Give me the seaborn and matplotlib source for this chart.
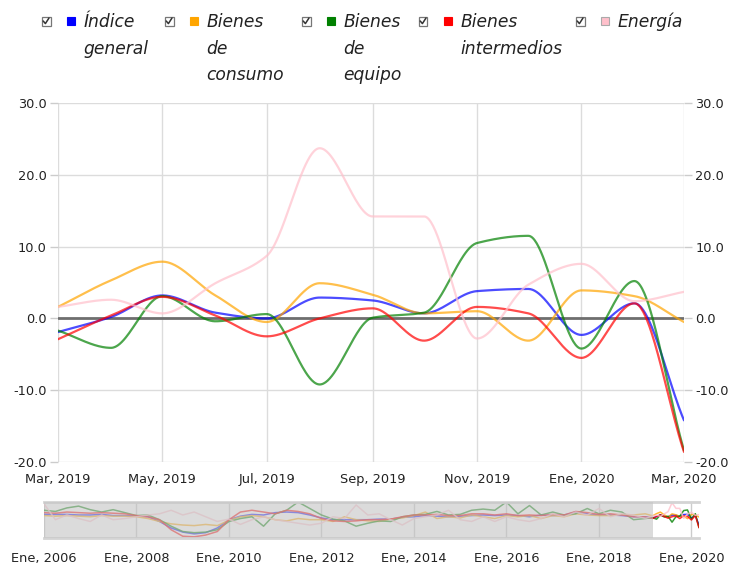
import numpy as np
import pandas as pd
import seaborn as sns
import matplotlib
matplotlib.use("Agg")
import matplotlib.pyplot as plt
import matplotlib.dates as mdates
from matplotlib.patches import Rectangle
from matplotlib.lines import Line2D

# series names / colours
SERIES = ["Índice general", "Bienes de consumo", "Bienes de equipo",
          "Bienes intermedios", "Energía"]
LEGEND_LABELS = [["Índice", "general"], ["Bienes", "de", "consumo"],
                 ["Bienes", "de", "equipo"], ["Bienes", "intermedios"], ["Energía"]]
COLORS = ["#0000ff", "#ffa500", "#008000", "#ff0000", "#ffc0cb"]

# main window: monthly, Mar 2019 - Mar 2020
meses = pd.date_range("2019-03-01", "2020-03-01", freq="MS")
general = [-1.9, 0.2, 3.2, 0.8, 0.0, 2.9, 2.5, 0.7, 3.8, 4.1, -2.3, 2.1, -14.2]
consumo = [1.6, 5.3, 7.9, 3.2, -0.5, 4.9, 3.3, 0.7, 1.0, -3.1, 3.9, 3.1, -0.5]
equipo = [-1.7, -4.1, 3.1, -0.4, 0.6, -9.2, 0.1, 0.8, 10.5, 11.5, -4.2, 5.2, -18.4]
intermedios = [-2.9, 0.4, 3.0, 0.4, -2.5, 0.0, 1.4, -3.1, 1.6, 0.7, -5.5, 2.1, -18.6]
energia = [1.6, 2.6, 0.7, 4.9, 8.7, 23.7, 14.2, 14.2, -2.8, 4.7, 7.6, 2.4, 3.7]

# navigator history, read roughly every quarter, Jan 2006 - Jan 2019
trimestres = pd.date_range("2006-01-01", periods=53, freq="QS")
general_hist = [4, 4, 4, 3, 3, 4, 2, 2, 1, 0, -8, -19, -26, -29, -27, -19, -5, 1, 4, 3,
                7, 8, 7, 3, -2, -5, -5, -5, -5, -4, -4, -1, 0, 2, 1, 0, 1, 2, 3,
                2, 3, 2, 0, 3, 2, 3, 8, 5, 3, 3, 2, 0, 0]
consumo_hist = [2, 1, 2, 1, 0, 2, 1, 1, 0, -3, -8, -12, -14, -15, -13, -15, -6, 0, 2, 0,
                -5, -7, -3, -5, -5, -8, 0, -5, -7, -8, -4, -2, 2, 8, -3, 0, -2, 3, 0,
                -3, 2, 0, 2, -3, 2, 0, 5, 3, 2, 2, 4, 3, 5]
equipo_hist = [11, 9, 15, 18, 12, 8, 12, 7, 2, 3, -5, -16, -25, -27, -26, -22, -8, -3, 0, -16,
               5, 11, 25, 14, 3, -4, -7, -16, -11, -7, -8, 0, 3, 4, 9, 3, 4, 11, 13,
               11, 25, 5, 19, 3, 8, 3, 5, 14, 5, 11, 8, -5, -3]
intermedios_hist = [7, 6, 8, 7, 6, 7, 6, 5, 2, 0, -5, -22, -33, -34, -31, -25, -5, 8, 11, 8,
                    5, 11, 9, 5, -3, -7, -8, -7, -5, -5, -4, 0, 3, 3, 4, 2, 2, 5, 5,
                    3, 5, 2, 3, 2, 4, 3, 9, 7, 4, 5, 3, 0, 0]
energia_hist = [22, -5, 3, -3, -8, 3, -5, -3, 0, 3, 5, 11, 3, 8, 0, -8, -4, -13, -5, 0,
                -5, -8, -11, -14, -11, 0, -3, 20, 3, 5, -5, -14, -3, 0, 3, 11, -5, -8, 0,
                -8, 0, -5, -8, -3, 5, 0, 8, 3, 14, 0, 5, 3, -3]

MAIN_TICKS = pd.date_range("2019-03-01", "2020-03-01", freq="2MS")
MAIN_TICK_LABELS = ["Mar, 2019", "May, 2019", "Jul, 2019", "Sep, 2019",
                    "Nov, 2019", "Ene, 2020", "Mar, 2020"]
NAV_TICKS = pd.date_range("2006-01-01", "2020-01-01", freq="2YS")
NAV_TICK_LABELS = [f"Ene, {d.year}" for d in NAV_TICKS]


def pchip(x, y, xs):
    # monotone cubic, just for drawing the smooth curves
    x = np.asarray(x, float)
    y = np.asarray(y, float)
    h = np.diff(x)
    d = np.diff(y) / h
    m = np.zeros_like(y)
    m[0], m[-1] = d[0], d[-1]
    for k in range(1, len(y) - 1):
        if d[k - 1] * d[k] > 0:
            w1 = 2 * h[k] + h[k - 1]
            w2 = h[k] + 2 * h[k - 1]
            m[k] = (w1 + w2) / (w1 / d[k - 1] + w2 / d[k])
    i = np.clip(np.searchsorted(x, xs) - 1, 0, len(x) - 2)
    t = (xs - x[i]) / h[i]
    h00 = 2 * t**3 - 3 * t**2 + 1
    h10 = t**3 - 2 * t**2 + t
    h01 = -2 * t**3 + 3 * t**2
    h11 = t**3 - t**2
    return h00 * y[i] + h10 * h[i] * m[i] + h01 * y[i + 1] + h11 * h[i] * m[i + 1]


def main():
    sns.set_theme(style="white")
    plt.rcParams["font.family"] = ["DejaVu Sans"]
    plt.rcParams["axes.unicode_minus"] = False

    fig = plt.figure(figsize=(7.29, 5.67), dpi=100)
    W, H = 729, 567

    def fx(px):
        return px / W

    def fy(py):
        return 1 - py / H

    main_vals = [general, consumo, equipo, intermedios, energia]
    hist_vals = [general_hist, consumo_hist, equipo_hist, intermedios_hist, energia_hist]
    palette = dict(zip(SERIES, COLORS))

    # ---- main chart
    ax = fig.add_axes([fx(58), fy(462), fx(684) - fx(58), fy(103) - fy(462)])
    xm = mdates.date2num(meses)
    xs = np.linspace(xm[0], xm[-1], 600)
    rows = []
    for name, vals in zip(SERIES, main_vals):
        rows.append(pd.DataFrame({"x": xs, "valor": pchip(xm, vals, xs), "serie": name}))
    df = pd.concat(rows, ignore_index=True)

    ax.axhline(0, color="#6e6e6e", lw=2, zorder=1.5)
    sns.lineplot(data=df, x="x", y="valor", hue="serie", palette=palette,
                 estimator=None, legend=False, lw=1.6, alpha=0.7, ax=ax, zorder=3)

    ax.set_xlim(xm[0], xm[-1])
    ax.set_ylim(-20, 30)
    ax.set_yticks([-20, -10, 0, 10, 20, 30])
    ax.set_yticklabels([f"{v:.1f}" for v in ax.get_yticks()])
    ax.set_xticks(mdates.date2num(MAIN_TICKS))
    ax.set_xticklabels(MAIN_TICK_LABELS)
    ax.grid(True, color="#dcdcdc", lw=1)
    for s in ax.spines.values():
        s.set_visible(False)
    ax.tick_params(axis="both", labelsize=9.3, colors="#cccccc", labelcolor="#222222",
                   length=6, width=1, direction="out", pad=2)
    ax.tick_params(axis="y", right=True, labelright=True, left=True)
    ax.set_xlabel("")
    ax.set_ylabel("")

    # ---- navigator
    nav = fig.add_axes([fx(44), fy(538), fx(699) - fx(44), fy(502) - fy(538)])
    xh = mdates.date2num(trimestres)
    rows = []
    for name, hv, mv in zip(SERIES, hist_vals, main_vals):
        rows.append(pd.DataFrame({"x": np.concatenate([xh, xm]),
                                  "valor": list(hv) + list(mv), "serie": name}))
    dn = pd.concat(rows, ignore_index=True)
    sns.lineplot(data=dn, x="x", y="valor", hue="serie", palette=palette,
                 estimator=None, legend=False, lw=1.1, alpha=0.8, ax=nav, zorder=2)
    nav.axvspan(xh[0], xm[0], color="#c4c4c4", alpha=0.6, lw=0, zorder=4)
    nav.set_xlim(xh[0], xm[-1])
    nav.set_ylim(-36, 25)
    nav.set_yticks([])
    nav.set_xticks(mdates.date2num(NAV_TICKS))
    nav.set_xticklabels(NAV_TICK_LABELS)
    nav.grid(True, axis="x", color="#cccccc", lw=1)
    for k, s in nav.spines.items():
        s.set_visible(k in ("top", "bottom"))
        s.set_color("#d4d4d4")
        s.set_linewidth(2)
    nav.tick_params(axis="x", labelsize=9.3, colors="#cccccc", labelcolor="#222222",
                    length=6, width=1, pad=4)
    nav.set_xlabel("")
    nav.set_ylabel("")

    # ---- legend (checkbox, colour square, italic label)
    check_x = [46, 169, 306, 423, 580]
    for cx, color, lines in zip(check_x, COLORS, LEGEND_LABELS):
        fig.patches.append(Rectangle((fx(cx - 4.5), fy(25.5)), fx(9), fy(0) - fy(9),
                                     transform=fig.transFigure, facecolor="white",
                                     edgecolor="#777777", lw=0.9))
        fig.lines.append(Line2D([fx(cx - 2.8), fx(cx - 0.6), fx(cx + 3)],
                                [fy(21), fy(23.6), fy(18)],
                                transform=fig.transFigure, color="#333333", lw=1.1))
        fig.patches.append(Rectangle((fx(cx + 21), fy(25)), fx(7.5), fy(0) - fy(7.5),
                                     transform=fig.transFigure, facecolor=color,
                                     edgecolor="#aaaaaa" if color == "#ffc0cb" else color,
                                     lw=0.8))
        for j, line in enumerate(lines):
            fig.text(fx(cx + 37.5), fy(27 + 26.7 * j), line, fontsize=12.3, style="italic",
                     color="#222222", ha="left", va="baseline")

    fig.savefig("out.png", dpi=100)
    plt.close(fig)


if __name__ == "__main__":
    main()
